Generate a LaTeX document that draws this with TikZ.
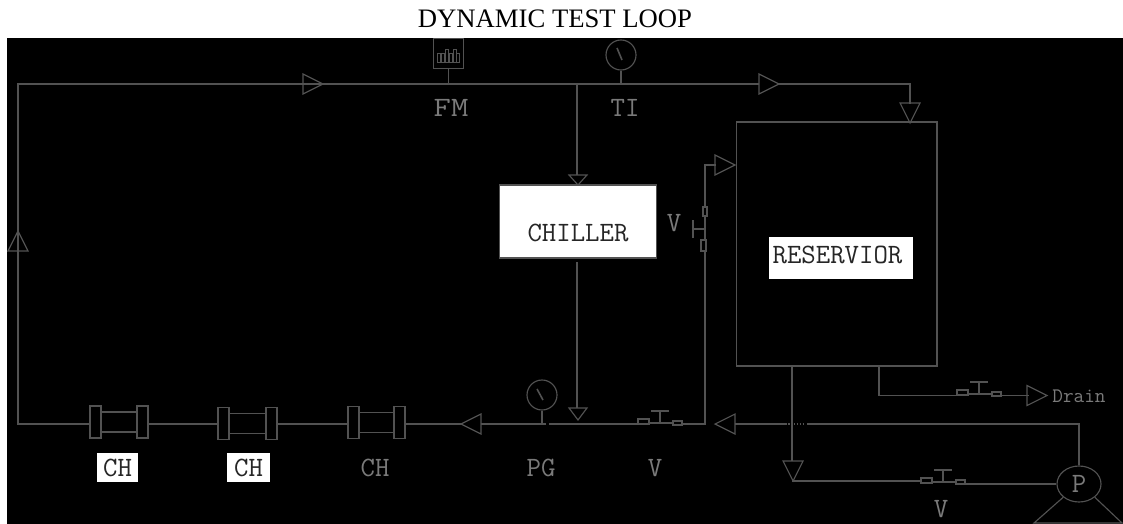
\documentclass[tikz,border=0pt]{standalone}
\usepackage{xcolor}
\usepackage{fontspec}
\setmainfont{Liberation Serif}
\usetikzlibrary{calc,shapes.geometric}
\definecolor{pipegray}{gray}{0.32}
\definecolor{taggray}{gray}{0.48}
\tikzset{
  pipe/.style={draw=pipegray,line width=1.2pt},
  thinpipe/.style={draw=pipegray,line width=0.85pt},
  tag/.style={text=taggray,inner sep=0pt,font=\ttfamily\fontsize{21}{21}\selectfont},
  darktag/.style={text=black!85,inner sep=0pt,font=\ttfamily\fontsize{21}{21}\selectfont},
  whitetag/.style={fill=white,inner sep=0pt,minimum height=21.5pt},
  gauge/.style={circle,thinpipe,inner sep=0pt,minimum size=22.5pt},
  flange/.style={rectangle,pipe,inner sep=0pt,minimum width=8.2pt,minimum height=24pt},
  flowtip/.pic={\draw[thinpipe] (0,0) -- (-20,-10) -- (-20,10) -- cycle;},
  valve/.pic={
    \draw[thinpipe] (-22,-4) rectangle (-11,1);
    \draw[thinpipe] (13,-2) rectangle (22,2);
    \draw[pipe] (-11,0) -- (13,0);
    \draw[pipe] (0,0) -- (0,-12);
    \draw[pipe] (-9,-12) -- (9,-12);
  }
}
\begin{document}
\begin{tikzpicture}[x=0.75pt,y=-0.75pt]
  \useasboundingbox (0,0) rectangle (1123,524);
  \fill[white] (0,0) rectangle (1123,524);
  \fill[black] (7,38) rectangle (1123,524);
  \node[inner sep=0pt,font=\fontsize{20}{20}\selectfont] (title) at (555,18.5) {DYNAMIC TEST LOOP};

  % vessels
  \node[rectangle,fill=white,pipe,minimum width=118pt,minimum height=54.5pt,inner sep=0pt] (chiller) at (578,221.5) {};
  \node[darktag] (chillertag) at (578,233) {CHILLER};
  \node[rectangle,pipe,minimum width=150.5pt,minimum height=183pt,inner sep=0pt] (reservoir) at (735.5,121) [anchor=north west] {};
  \node[whitetag,minimum width=107.5pt,minimum height=31.5pt] (reservoirbox) at (841,258) {};
  \node[darktag] (reservoirtag) at (837.5,255) {RESERVIOR};

  % instruments
  \node[rectangle,thinpipe,minimum width=23pt,minimum height=22pt,inner sep=0pt] (fm) at (448.5,53.5) {};
  \foreach \x/\h in {437/6,441/6,445/10,449/6,453/10,456/6}
    \draw[thinpipe,line width=0.5pt] (\x,62) rectangle ++(3,-\h-3);
  \node[gauge] (ti) at (621,55) {};
  \draw[pipe] (617,48) -- (622,60);
  \node[gauge] (pg) at (542,395) {};
  \draw[pipe] (537,389) -- (543,400);
  \node[tag,xscale=1.2] (fmtag) at (451,108) {FM};
  \node[tag] (titag) at (625,108) {TI};
  \node[tag] (pgtag) at (541,468) {PG};
  \node[tag] (vmain) at (655,468) {V};
  \node[tag] (vside) at (674,223) {V};
  \node[tag] (vpump) at (941,509) {V};
  \node[tag,font=\ttfamily\fontsize{15.5}{15.5}\selectfont] (draintag) at (1079,396.5) {Drain};

  % coolers
  \foreach \n/\xa/\xb/\yc in {one/95.5/142.5/422,two/223.5/271.5/423.5,three/353.5/399.5/422.5}{
    \node[flange] (\n l) at (\xa,\yc) {};
    \node[flange] (\n r) at (\xb,\yc) {};
    \draw[pipe] ($(\n l.east)+(0,-10)$) -- ($(\n r.west)+(0,-10)$);
    \draw[pipe] ($(\n l.east)+(0,10)$) -- ($(\n r.west)+(0,10)$);
  }
  \node[whitetag,minimum width=31pt] (chonebox) at (117.5,467.5) {};
  \node[darktag] (chone) at (117.5,467.5) {CH};
  \node[whitetag,minimum width=32.5pt] (chtwobox) at (248.5,467.5) {};
  \node[darktag] (chtwo) at (248.5,467.5) {CH};
  \node[tag] (chthree) at (375,468) {CH};

  % pump
  \node[ellipse,thinpipe,minimum width=33pt,minimum height=27pt,inner sep=0pt,text=taggray,font=\ttfamily\fontsize{21}{21}\selectfont] (pump) at (1079,484) {P};
  \coordinate (footl) at (1034,523);
  \coordinate (footr) at (1122,523);
  \draw[thinpipe] (pump.-140) -- (footl) -- (footr) -- (pump.-40);

  % junctions and bends
  \coordinate (mainline) at (0,424);
  \coordinate (corner) at (18,84);
  \coordinate (tiptop) at (910,84);
  \coordinate (teetop) at (577,84);
  \coordinate (chillerin) at (577,175);
  \coordinate (chillerout) at (577,262);
  \coordinate (chillerdrop) at (577,408);
  \coordinate (teeside) at (705,424);
  \coordinate (sidebend) at (705,165);
  \coordinate (pumpturn) at (1079,424);
  \coordinate (lowturn) at (792,481);
  \coordinate (lowdrop) at (792,461);
  \coordinate (lowtop) at (792,366);
  \coordinate (draintop) at (879,366);

  % pipes
  \draw[pipe] (onel.west |- mainline) -- (18,424) -- (corner) -- (759,84);
  \draw[pipe] (779,84) -- (tiptop) -- (910,104);
  \draw[pipe] (teetop) -- (chillerin);
  \draw[pipe] (chillerout) -- (chillerdrop);
  \draw[pipe] (fm.south) -- (448.5,84);
  \draw[pipe] (ti.south) -- (621,84);
  \draw[pipe] (pg.south) -- (542,424);
  \draw[pipe] (oner.east |- mainline) -- (twol.west |- mainline);
  \draw[pipe] (twor.east |- mainline) -- (threel.west |- mainline);
  \draw[pipe] (threer.east |- mainline) -- (461,424);
  \draw[pipe] (481,424) -- (546,424);
  \draw[pipe] (549,424) -- (638,424);
  \draw[pipe] (682,424) -- (teeside) -- (705,251);
  \draw[pipe] (705,207) -- (sidebend) -- (716,165);
  \draw[pipe] (735,424) -- (785,424);
  \draw[pipe,densely dotted] (785,424) -- (805,424);
  \draw[pipe] (807,424) -- (pumpturn) -- (pump.north);
  \draw[pipe] (lowtop) -- (lowdrop);
  \draw[pipe] (lowturn) -- (921,481);
  \draw[pipe] (965,484) -- (pump.west);
  \draw[pipe] (draintop) -- (879,395.5) -- (958,395.5);
  \draw[pipe] (1001,395.5) -- (1029,395.5);

  % flow marks
  \path (323,84) pic {flowtip};
  \path (779,84) pic {flowtip};
  \path (18,231) pic[rotate=90] {flowtip};
  \path (910,123) pic[rotate=-90] {flowtip};
  \path (578,185) pic[rotate=-90,xscale=0.5,yscale=0.9] {flowtip};
  \path (578,420) pic[rotate=-90,xscale=0.6,yscale=0.9] {flowtip};
  \path (735,165) pic {flowtip};
  \path (461,424) pic[rotate=180] {flowtip};
  \path (715,424) pic[rotate=180] {flowtip};
  \path (793,481) pic[rotate=-90] {flowtip};
  \path (1047,395.5) pic {flowtip};

  % valves
  \path (660,423) pic {valve};
  \path (943,482) pic {valve};
  \path (979,394) pic {valve};
  \path (705,229) pic[rotate=90] {valve};
\end{tikzpicture}
\end{document}
